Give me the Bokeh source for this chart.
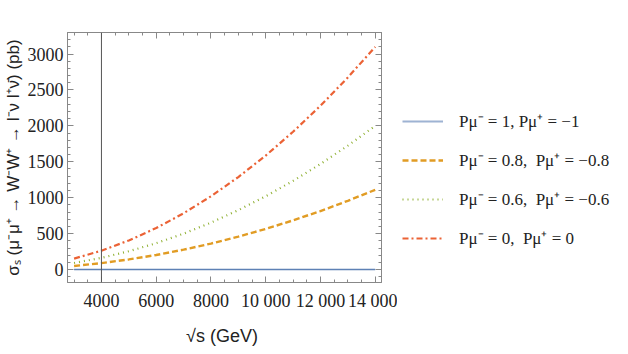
from bokeh.plotting import figure
from bokeh.layouts import row
from bokeh.models import (Range1d, Span, Legend, LegendItem, LinearAxis, SingleIntervalTicker,
                          CustomJSTickFormatter)
from bokeh.embed import file_html
from bokeh.resources import INLINE

# Data
sqrt_s = [3000, 4000, 5000, 6000, 7000, 8000, 9000, 10000, 11000, 12000, 13000, 14000]
sigma_p1 = [0, 0, 0, 0, 0, 0, 0, 0, 0, 0, 0, 0]
sigma_p08 = [50, 90, 141, 203, 277, 362, 458, 566, 685, 815, 957, 1110]
sigma_p06 = [92, 163, 255, 367, 500, 653, 827, 1020, 1235, 1469, 1725, 2000]
sigma_p0 = [153, 263, 405, 578, 783, 1020, 1288, 1587, 1918, 2280, 2674, 3100]
labels = ["Pμ⁻ = 1, Pμ⁺ = −1", "Pμ⁻ = 0.8,  Pμ⁺ = −0.8",
          "Pμ⁻ = 0.6,  Pμ⁺ = −0.6", "Pμ⁻ = 0,  Pμ⁺ = 0"]
x_ticks = [4000, 6000, 8000, 10000, 12000, 14000]
x_tick_labels = ["4000", "6000", "8000", "10 000", "12 000", "14 000"]
marker_x = 4000

colors = ["#5E81B5", "#E19C24", "#8FB032", "#EB6235"]
dashes = ["solid", "6 3", "1 4", "6 3 2 3"]
widths = [1.4, 2.4, 2.2, 2.2]
series = [sigma_p1, sigma_p08, sigma_p06, sigma_p0]

p = figure(width=397, height=354, output_backend="svg", toolbar_location=None,
           x_range=Range1d(2760, 14230), y_range=Range1d(-180, 3300),
           min_border_left=67, min_border_right=16, min_border_top=32, min_border_bottom=72)
p.background_fill_color = "white"
p.outline_line_color = "#888888"
p.grid.visible = False

for ys, c, d, w in zip(series, colors, dashes, widths):
    p.line(sqrt_s, ys, line_color=c, line_width=w, line_dash=d)

p.add_layout(Span(location=marker_x, dimension="height", line_color="#555555", line_width=1))

tick_font = "Liberation Sans Narrow"
for ax in [p.xaxis[0], p.yaxis[0]]:
    ax.axis_line_color = "#888888"
    ax.major_tick_line_color = "#888888"
    ax.minor_tick_line_color = "#888888"
    ax.major_tick_in = 6
    ax.major_tick_out = 0
    ax.minor_tick_in = 3
    ax.minor_tick_out = 0
    ax.major_label_text_font = tick_font
    ax.major_label_text_font_size = "18px"
    ax.major_label_text_color = "#222222"
    ax.axis_label_text_font = "Liberation Sans"
    ax.axis_label_text_font_style = "normal"
    ax.axis_label_text_color = "#222222"

p.xaxis[0].ticker = SingleIntervalTicker(interval=2000, num_minor_ticks=4)
p.xaxis[0].major_label_overrides = {t: l for t, l in zip(x_ticks, x_tick_labels)}
p.xaxis[0].axis_label = "√s  (GeV)"
p.xaxis[0].axis_label_text_font_size = "18px"
p.xaxis[0].axis_label_standoff = 12
p.xaxis[0].major_label_standoff = 8
p.yaxis[0].ticker = SingleIntervalTicker(interval=500, num_minor_ticks=5)
p.yaxis[0].axis_label = "σₛ (μ⁻μ⁺ → W⁻W⁺ → l⁻ν l⁺ν̄) (pb)"
p.yaxis[0].axis_label_text_font_size = "17px"
p.yaxis[0].axis_label_standoff = 2
p.yaxis[0].major_label_standoff = 4

# frame ticks on top and right
top = LinearAxis(ticker=SingleIntervalTicker(interval=2000, num_minor_ticks=4))
right = LinearAxis(ticker=SingleIntervalTicker(interval=500, num_minor_ticks=5))
for ax in [top, right]:
    ax.formatter = CustomJSTickFormatter(code="return ''")
    ax.axis_line_color = "#888888"
    ax.major_tick_line_color = "#888888"
    ax.minor_tick_line_color = "#888888"
    ax.major_tick_in = 6
    ax.major_tick_out = 0
    ax.minor_tick_in = 3
    ax.minor_tick_out = 0
    ax.major_label_standoff = 0
p.add_layout(top, "above")
p.add_layout(right, "right")

# legend panel (same series, drawn outside this panel's view so only the legend shows)
q = figure(width=231, height=354, output_backend="svg", toolbar_location=None,
           x_range=Range1d(0, 1), y_range=Range1d(-1e6, -9e5),
           min_border=0, min_border_left=0, min_border_right=0, min_border_top=0, min_border_bottom=0)
q.axis.visible = False
q.grid.visible = False
q.outline_line_color = None
items = []
for l, ys, c, d, w in zip(labels, series, colors, dashes, widths):
    r = q.line(sqrt_s, ys, line_color=c, line_width=w if d != "solid" else 2.2, line_dash=d,
               line_alpha=0.6 if d == "solid" else 1.0)
    items.append(LegendItem(label=l, renderers=[r]))

legend = Legend(items=items, location=(5, 33), orientation="vertical")
legend.border_line_color = None
legend.background_fill_alpha = 0
legend.padding = 0
legend.margin = 0
legend.spacing = 16
legend.glyph_width = 41
legend.glyph_height = 20
legend.label_height = 20
legend.label_standoff = 16
legend.label_text_font = "Liberation Serif"
legend.label_text_font_size = "17px"
legend.label_text_color = "#222222"
q.add_layout(legend, "center")

open("out.html", "w").write(file_html(row(p, q), INLINE))
